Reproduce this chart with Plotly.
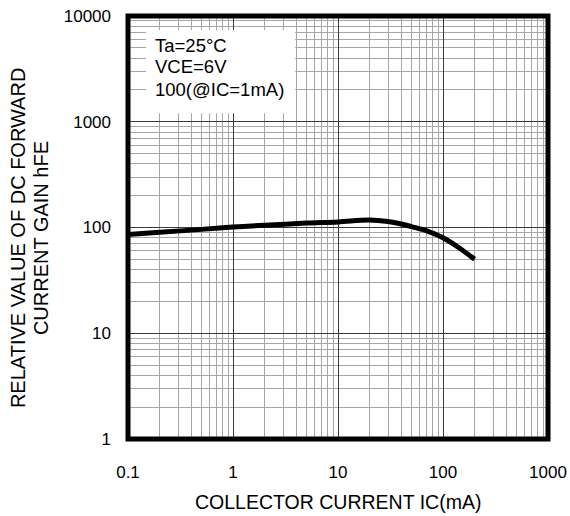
import plotly.graph_objects as go

# Data
ic_ma = [0.1, 0.2, 0.5, 1, 2, 5, 10, 20, 30, 40, 50, 70, 100, 150, 200]
hfe = [86, 90, 96, 101, 105, 110, 113, 118, 114, 108, 102, 93, 80, 62, 50]

x_ticks = [0.1, 1, 10, 100, 1000]
x_ticktext = ["0.1", "1", "10", "100", "1000"]
y_ticks = [1, 10, 100, 1000, 10000]
y_ticktext = ["1", "10", "100", "1000", "10000"]

notes = ["Ta=25°C", "VCE=6V", "100(@IC=1mA)"]

FONT = "Arial, Liberation Sans, sans-serif"

def minor_vals(decades):
    vals = []
    for d in decades:
        for m in range(2, 10):
            vals.append(m * d)
    return vals

fig = go.Figure()
fig.add_trace(go.Scatter(
    x=ic_ma, y=hfe, mode="lines",
    line=dict(color="black", width=5, shape="spline", smoothing=1.0),
    showlegend=False, hoverinfo="skip",
))

fig.update_xaxes(
    type="log", range=[-1, 3], automargin=False,
    tickvals=x_ticks, ticktext=x_ticktext,
    showgrid=True, gridcolor="#3a3a3a", gridwidth=1,
    minor=dict(tickvals=minor_vals([0.1, 1, 10, 100]), showgrid=True,
               gridcolor="#a6a6a6", gridwidth=1),
    showline=False, zeroline=False, ticks="",
    ticklabelstandoff=21,
    tickfont=dict(family=FONT, size=17, color="black"),
)
fig.update_yaxes(
    type="log", range=[0, 4], automargin=False,
    tickvals=y_ticks, ticktext=y_ticktext,
    showgrid=True, gridcolor="#3a3a3a", gridwidth=1,
    minor=dict(tickvals=minor_vals([1, 10, 100, 1000]), showgrid=True,
               gridcolor="#a6a6a6", gridwidth=1),
    showline=False, zeroline=False, ticks="",
    ticklabelstandoff=16,
    tickfont=dict(family=FONT, size=17, color="black"),
)

# white box behind the condition notes
fig.add_shape(type="rect", xref="paper", yref="paper",
              x0=0.043, x1=0.398, y0=0.770, y1=0.967,
              fillcolor="white", line=dict(width=0), layer="above")
# thick frame
fig.add_shape(type="rect", xref="paper", yref="paper",
              x0=0, x1=1, y0=0, y1=1,
              line=dict(color="black", width=5), layer="above")

note_y = [0.930, 0.880, 0.826]
for t, yy in zip(notes, note_y):
    fig.add_annotation(text=t, xref="paper", yref="paper", x=0.0595, y=yy,
                       xanchor="left", yanchor="middle", showarrow=False,
                       font=dict(family=FONT, size=18.5, color="black"))

fig.add_annotation(text="RELATIVE VALUE OF DC FORWARD", textangle=-90,
                   xref="paper", yref="paper", x=(18 - 128) / 420, y=0.475,
                   xanchor="center", yanchor="middle", showarrow=False,
                   font=dict(family=FONT, size=20, color="black"))
fig.add_annotation(text="CURRENT GAIN hFE", textangle=-90,
                   xref="paper", yref="paper", x=(41 - 128) / 420, y=0.475,
                   xanchor="center", yanchor="middle", showarrow=False,
                   font=dict(family=FONT, size=20, color="black"))
fig.add_annotation(text="COLLECTOR CURRENT IC(mA)",
                   xref="paper", yref="paper", x=0.5, y=(439 - 501.5) / 423,
                   xanchor="center", yanchor="middle", showarrow=False,
                   font=dict(family=FONT, size=19.5, color="black"))

fig.update_layout(
    width=570, height=516,
    margin=dict(l=128, r=22, t=16, b=77),
    paper_bgcolor="white", plot_bgcolor="white",
)

fig.write_html("out.html")
